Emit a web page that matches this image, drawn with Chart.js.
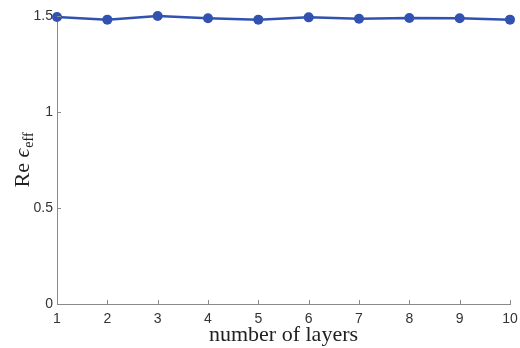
<!DOCTYPE html>
<html>
<head>
<meta charset="utf-8">
<script src="https://cdn.jsdelivr.net/npm/chart.js@4/dist/chart.umd.min.js"></script>
<style>
  html, body { margin: 0; padding: 0; background: #fff; }
  #wrap { width: 520px; height: 348px; position: relative; }
</style>
</head>
<body>
<div id="wrap"><canvas id="c" width="520" height="348"></canvas></div>
<script>
// Effective permittivity (real part) versus number of stacked layers
const layers = [1, 2, 3, 4, 5, 6, 7, 8, 9, 10];
const reEps = [1.495, 1.481, 1.500, 1.488, 1.481, 1.493, 1.486, 1.490, 1.488, 1.481];
const yTicks = [0, 0.5, 1, 1.5];

const axisColor = '#8a8a8a';
const lineColor = '#3152b0';
const tickFont = { family: 'Liberation Sans, Arial, sans-serif', size: 14 };
const serif = '"Liberation Serif", "Times New Roman", serif';

// Inward tick marks plus the serif axis titles (with subscript)
const axisDecor = {
  id: 'axisDecor',
  afterDraw(chart) {
    const ctx = chart.ctx;
    const xs = chart.scales.x, ys = chart.scales.y;
    const area = chart.chartArea;
    ctx.save();
    ctx.strokeStyle = axisColor;
    ctx.lineWidth = 1;
    ctx.beginPath();
    layers.forEach(v => {
      const px = Math.round(xs.getPixelForValue(v)) + 0.5;
      ctx.moveTo(px, area.bottom);
      ctx.lineTo(px, area.bottom - 4);
    });
    yTicks.forEach(v => {
      const py = Math.round(ys.getPixelForValue(v)) + 0.5;
      ctx.moveTo(area.left, py);
      ctx.lineTo(area.left + 4, py);
    });
    ctx.stroke();

    // x title
    ctx.fillStyle = '#222';
    ctx.font = '22px ' + serif;
    ctx.textAlign = 'center';
    ctx.textBaseline = 'middle';
    ctx.fillText('number of layers', (area.left + area.right) / 2, 335);

    // y title: Re ϵ_eff
    ctx.translate(22, (area.top + area.bottom) / 2);
    ctx.rotate(-Math.PI / 2);
    const main = 'Re ';
    const eps = 'ϵ';
    const sub = 'eff';
    ctx.font = '22px ' + serif;
    const wMain = ctx.measureText(main).width;
    ctx.font = 'italic 22px ' + serif;
    const wEps = ctx.measureText(eps).width;
    ctx.font = '14px ' + serif;
    const wSub = ctx.measureText(sub).width;
    const total = wMain + wEps + wSub + 1;
    let x0 = -total / 2;
    ctx.textAlign = 'left';
    ctx.textBaseline = 'alphabetic';
    ctx.font = '22px ' + serif;
    ctx.fillText(main, x0, 7);
    x0 += wMain;
    ctx.font = 'italic 22px ' + serif;
    ctx.fillText(eps, x0, 7);
    x0 += wEps + 1;
    ctx.font = '14px ' + serif;
    ctx.fillText(sub, x0, 11);
    ctx.restore();
  }
};

new Chart(document.getElementById('c'), {
  type: 'line',
  data: {
    datasets: [{
      data: layers.map((l, i) => ({ x: l, y: reEps[i] })),
      borderColor: lineColor,
      backgroundColor: lineColor,
      borderWidth: 2.5,
      pointRadius: 5,
      pointHoverRadius: 5,
      pointBorderWidth: 0,
      tension: 0,
      clip: false
    }]
  },
  options: {
    responsive: false,
    animation: false,
    devicePixelRatio: 1,
    layout: { padding: { top: 16, right: 10, left: 0, bottom: 0 } },
    plugins: { legend: { display: false }, tooltip: { enabled: false } },
    scales: {
      x: {
        type: 'linear',
        min: 1, max: 10,
        afterBuildTicks: s => { s.ticks = layers.map(v => ({ value: v })); },
        afterFit: s => { s.height = 44; s.paddingLeft = 0; s.paddingRight = 0; },
        grid: { display: true, drawOnChartArea: false, drawTicks: false },
        border: { display: true, color: axisColor, width: 1 },
        ticks: { font: tickFont, color: '#333', padding: 7, maxRotation: 0 }
      },
      y: {
        min: 0, max: 1.5,
        afterBuildTicks: s => { s.ticks = yTicks.map(v => ({ value: v })); },
        afterFit: s => { s.width = 57; s.paddingTop = 0; s.paddingBottom = 0; },
        grid: { display: true, drawOnChartArea: false, drawTicks: false },
        border: { display: true, color: axisColor, width: 1 },
        ticks: { font: tickFont, color: '#333', padding: 4,
                 callback: v => String(v) }
      }
    }
  },
  plugins: [axisDecor]
});
</script>
</body>
</html>
